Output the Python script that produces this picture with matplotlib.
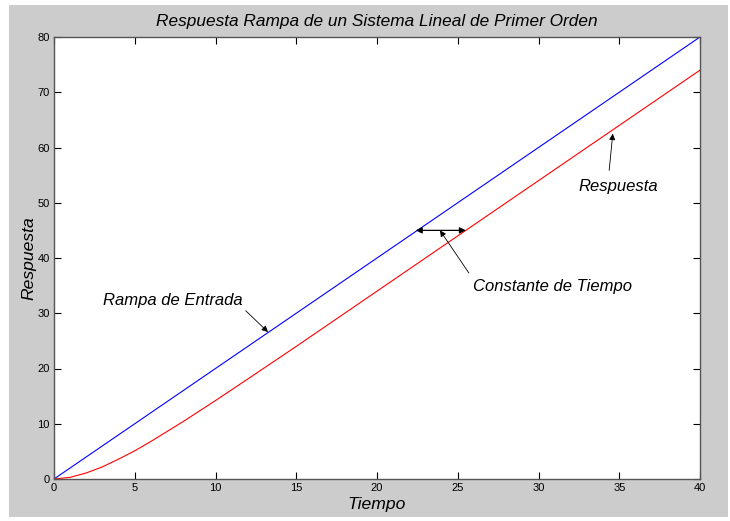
import matplotlib.pyplot as plt
from matplotlib.patches import Rectangle

# datos
t_rampa = [0, 40]
y_rampa = [0, 80]

t_resp = [0, 1, 2, 3, 4, 5, 6, 7, 8, 10, 12, 15, 20, 25, 30, 35, 40]
y_resp = [0, 0.3, 1.1, 2.2, 3.6, 5.1, 6.8, 8.6, 10.4, 14.2, 18.1, 24.0, 34.0, 44.0, 54.0, 64.0, 74.0]

xticks = [0, 5, 10, 15, 20, 25, 30, 35, 40]
yticks = [0, 10, 20, 30, 40, 50, 60, 70, 80]

tau_ini, tau_fin, tau_y = 22.4, 25.5, 45

plt.rcParams['font.family'] = ['Liberation Sans', 'DejaVu Sans']

fig = plt.figure(figsize=(7.3, 5.21), dpi=100)
fig.patch.set_facecolor('white')
fig.patches.append(Rectangle((9 / 730, 4 / 521), 719 / 730, 512 / 521,
                             transform=fig.transFigure, facecolor='#cccccc',
                             edgecolor='none', zorder=-10))

ax = fig.add_axes([54 / 730, 1 - 479 / 521, 646 / 730, 442 / 521])
ax.set_facecolor('white')

ax.plot(t_rampa, y_rampa, color='blue', lw=0.8)
ax.plot(t_resp, y_resp, color='red', lw=0.8)

ax.set_xlim(0, 40)
ax.set_ylim(0, 80)
ax.set_xticks(xticks)
ax.set_yticks(yticks)
ax.tick_params(direction='in', length=5, width=0.8, labelsize=8,
               top=True, right=True, pad=3, colors='black')
for s in ax.spines.values():
    s.set_color('#555555')
    s.set_linewidth(1.0)

ax.set_title('Respuesta Rampa de un Sistema Lineal de Primer Orden',
             fontsize=12.4, style='italic', pad=8)
ax.set_xlabel('Tiempo', fontsize=12.6, style='italic', labelpad=3)
ax.set_ylabel('Respuesta', fontsize=12.6, style='italic', labelpad=1)

arrow = dict(arrowstyle='-|>', color='black', lw=0.6, mutation_scale=9)
ax.annotate('Rampa de Entrada', xy=(13.25, 26.6), xytext=(3.05, 32.3),
            fontsize=12, style='italic', va='center', ha='left',
            arrowprops=dict(arrow, shrinkA=0, shrinkB=0, relpos=(1.0, 0.0)))
ax.annotate('Respuesta', xy=(34.6, 62.5), xytext=(32.5, 53.0),
            fontsize=12, style='italic', va='center', ha='left',
            arrowprops=dict(arrow, shrinkA=4, shrinkB=0, relpos=(0.37, 1.0)))
ax.annotate('Constante de Tiempo', xy=(23.9, 45), xytext=(25.95, 34.8),
            fontsize=12, style='italic', va='center', ha='left',
            arrowprops=dict(arrow, shrinkA=3, shrinkB=0, relpos=(0.0, 1.0)))
ax.annotate('', xy=(tau_ini, tau_y), xytext=(tau_fin, tau_y),
            arrowprops=dict(arrowstyle='<|-|>', color='black', lw=0.9,
                            mutation_scale=9, shrinkA=0, shrinkB=0))

fig.savefig('out.png', dpi=100, facecolor=fig.get_facecolor())
